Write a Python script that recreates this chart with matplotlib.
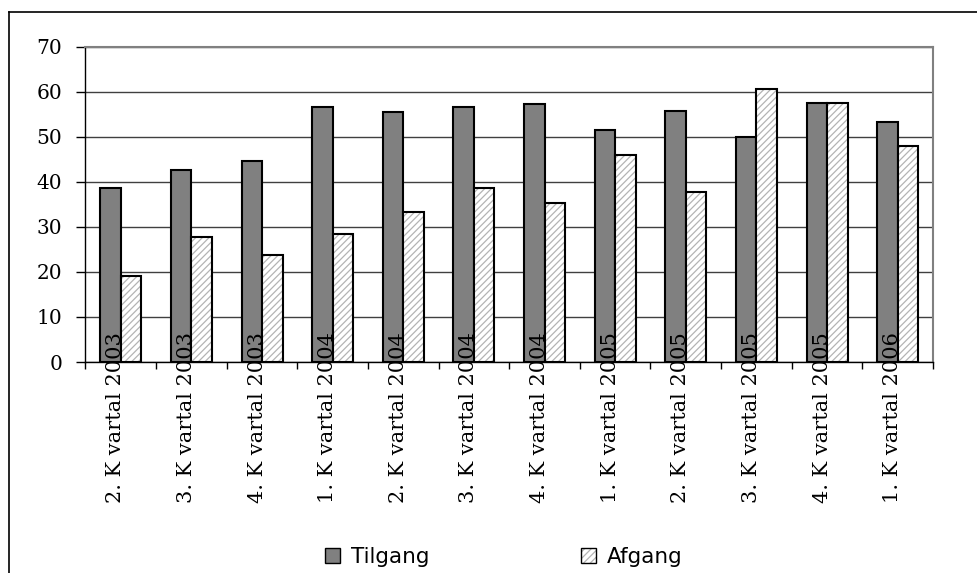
import numpy as np
import matplotlib
matplotlib.use('Agg')
import matplotlib.pyplot as plt
from matplotlib.patches import Rectangle
from matplotlib.lines import Line2D
from matplotlib.transforms import blended_transform_factory

# Data
kvartaler = ['2. K vartal 2003', '3. K vartal 2003', '4. K vartal 2003',
             '1. K vartal 2004', '2. K vartal 2004', '3. K vartal 2004',
             '4. K vartal 2004', '1. K vartal 2005', '2. K vartal 2005',
             '3. K vartal 2005', '4. K vartal 2005', '1. K vartal 2006']
tilgang = [38.5, 42.6, 44.7, 56.5, 55.5, 56.5, 57.3, 51.5, 55.6, 49.9, 57.4, 53.3]
afgang = [19.1, 27.7, 23.7, 28.4, 33.2, 38.5, 35.3, 46.0, 37.8, 60.5, 57.4, 47.9]
y_ticks = [0, 10, 20, 30, 40, 50, 60, 70]
serier = ['Tilgang', 'Afgang']

plt.rcParams['hatch.linewidth'] = 0.9
hatch_farve = '#b4b4b4'
hatch_moenster = '/////'

W, H = 978, 573
fig = plt.figure(figsize=(W / 100, H / 100), dpi=100)
ax = fig.add_axes([85.5 / W, 1 - 362 / H, (933 - 85.5) / W, (362 - 46.5) / H])

x = np.arange(len(kvartaler))
b = 0.29

ax.bar(x - b / 2, tilgang, b, color='#808080', edgecolor='black', linewidth=1.5, zorder=3)
# hatch for Afgang, then a black outline on top
ax.bar(x + b / 2, afgang, b, color='white', edgecolor=hatch_farve, hatch=hatch_moenster,
       linewidth=0, zorder=3)
ax.bar(x + b / 2, afgang, b, fill=False, edgecolor='black', linewidth=1.5, zorder=4)

ax.set_xlim(-0.5, len(kvartaler) - 0.5)
ax.set_ylim(0, 70)
ax.set_yticks(y_ticks)
ax.set_yticklabels([str(v) for v in y_ticks], fontfamily='DejaVu Serif', fontsize=14.5)
ax.tick_params(axis='y', length=6.8, width=1, pad=10, color='black')
ax.yaxis.grid(True, color='#404040', linewidth=1, zorder=0)

# ticks between categories, labels drawn as text
ax.set_xticks(np.arange(-0.5, len(kvartaler), 1.0))
ax.set_xticklabels([])
ax.tick_params(axis='x', length=5, width=1, color='black')

trans = blended_transform_factory(ax.transData, ax.transAxes)
for i, lab in enumerate(kvartaler):
    ax.text(i - 0.07, (362 - 503) / (362 - 46.5), lab, rotation=90, ha='center', va='bottom',
            fontfamily='DejaVu Serif', fontsize=15, transform=trans, zorder=6)

for side in ['top', 'right']:
    ax.spines[side].set_color('#808080')
    ax.spines[side].set_linewidth(1.5)
for side in ['left', 'bottom']:
    ax.spines[side].set_color('black')
    ax.spines[side].set_linewidth(1)

# legend drawn by hand (hatched handle with black outline)
boks = 15
leg_y = 555
for bx, navn in zip([325, 581], serier):
    if navn == 'Tilgang':
        fig.add_artist(Rectangle((bx / W, 1 - (leg_y + boks / 2) / H), boks / W, boks / H,
                                 transform=fig.transFigure, facecolor='#808080',
                                 edgecolor='black', linewidth=1))
    else:
        fig.add_artist(Rectangle((bx / W, 1 - (leg_y + boks / 2) / H), boks / W, boks / H,
                                 transform=fig.transFigure, facecolor='white',
                                 edgecolor=hatch_farve, hatch=hatch_moenster, linewidth=0))
        fig.add_artist(Rectangle((bx / W, 1 - (leg_y + boks / 2) / H), boks / W, boks / H,
                                 transform=fig.transFigure, fill=False,
                                 edgecolor='black', linewidth=1))
    fig.text((bx + boks + 11) / W, 1 - leg_y / H, navn, ha='left', va='center_baseline',
             fontfamily='DejaVu Sans', fontsize=15.5)

# outer chart border
fig.add_artist(Line2D([9 / W, 9 / W], [0, 1 - 12 / H], transform=fig.transFigure,
                      color='black', linewidth=1.2))
fig.add_artist(Line2D([9 / W, 1], [1 - 12 / H, 1 - 12 / H], transform=fig.transFigure,
                      color='black', linewidth=1.2))

fig.savefig('out.png', dpi=100)
